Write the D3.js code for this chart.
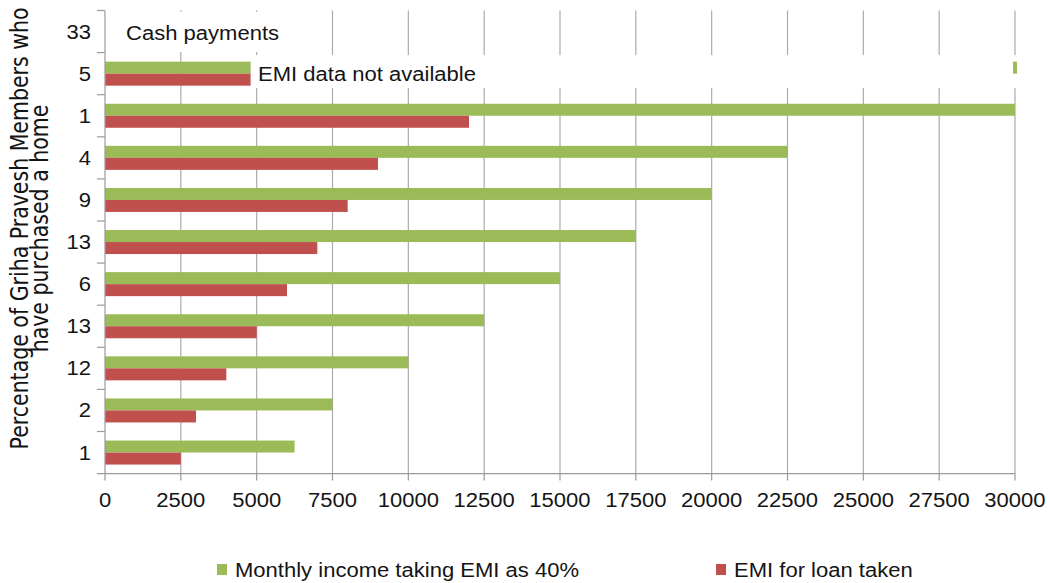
<!DOCTYPE html>
<html>
<head>
<meta charset="utf-8">
<script src="https://cdn.jsdelivr.net/npm/d3@7"></script>
<style>
  html, body { margin: 0; padding: 0; background: #fff; }
  svg { display: block; }
  text { fill: #141414; }
</style>
</head>
<body>
<svg id="chart" width="1048" height="583"></svg>
<script>
// Rows, top to bottom: share (%) of Griha Pravesh members who bought a home
const rowLabels = ["33", "5", "1", "4", "9", "13", "6", "13", "12", "2", "1"];
// Monthly income implied when EMI is 40% of income (null = no bar)
const incomeValues = [null, 4800, 30000, 22500, 20000, 17500, 15000, 12500, 10000, 7500, 6250];
// EMI for the loan taken
const emiValues = [null, 4800, 12000, 9000, 8000, 7000, 6000, 5000, 4000, 3000, 2500];
// Small income marker pinned at the right edge of the "EMI data not available" row
const incomeMarkerRows = [1];
const incomeMarkerValues = [30000];
const xTicks = [0, 2500, 5000, 7500, 10000, 12500, 15000, 17500, 20000, 22500, 25000, 27500, 30000];
const seriesNames = ["Monthly income taking EMI as 40%", "EMI for loan taken"];
const seriesColors = ["#9BBB59", "#C0504D"];
const rowNotes = [
  { row: 0, text: "Cash payments" },
  { row: 1, text: "EMI data not available" }
];
const axisTitle = ["Percentage of Griha Pravesh Members who", "have purchased a home"];

const svg = d3.select("#chart");
const FONT = "'Liberation Sans', Arial, sans-serif";
const FS = 19.5, SX = 1.13;   // label size and horizontal stretch

const plot = { left: 105, right: 1015, top: 10.5, bottom: 473.6 };

const x = d3.scaleLinear().domain([0, 30000]).range([plot.left, plot.right]);
const y = d3.scaleBand().domain(d3.range(rowLabels.length)).range([plot.top, plot.bottom]);
const sub = d3.scaleBand().domain([0, 1]).range([0, y.bandwidth()]).paddingOuter(0.754).paddingInner(0);

// stretched text helper
function label(g, px, py, str, anchor) {
  return g.append("text")
    .attr("transform", `translate(${px},${py}) scale(${SX},1)`)
    .attr("text-anchor", anchor || "start")
    .style("font-family", FONT)
    .style("font-size", FS + "px")
    .text(str);
}

// vertical gridlines
svg.append("g").selectAll("line")
  .data(xTicks.filter(d => d > 0))
  .join("line")
  .attr("x1", d => x(d)).attr("x2", d => x(d))
  .attr("y1", plot.top).attr("y2", plot.bottom)
  .attr("stroke", "#ababab").attr("stroke-width", 1.2);

// white boxes behind the row notes
svg.append("rect").attr("x", 113).attr("y", 12).attr("width", 180).attr("height", 40).attr("fill", "#fff");
svg.append("rect").attr("x", 254).attr("y", y(1) + 2.5).attr("width", 780).attr("height", 33).attr("fill", "#fff");

// bars
const rows = rowLabels.map((l, i) => ({ i, values: [incomeValues[i], emiValues[i]] }));
const rowG = svg.append("g").selectAll("g").data(rows).join("g")
  .attr("transform", d => `translate(0,${y(d.i)})`);
rowG.selectAll("rect")
  .data(d => d.values.map((v, k) => ({ v, k })).filter(e => e.v != null))
  .join("rect")
  .attr("x", x(0))
  .attr("y", e => sub(e.k))
  .attr("width", e => x(e.v) - x(0))
  .attr("height", sub.bandwidth())
  .attr("fill", e => seriesColors[e.k]);

// income marker at the right edge
svg.append("g").selectAll("rect")
  .data(incomeMarkerRows.map((r, j) => ({ r, v: incomeMarkerValues[j] })))
  .join("rect")
  .attr("x", d => x(d.v) - 2)
  .attr("y", d => y(d.r) + sub(0))
  .attr("width", 4)
  .attr("height", sub.bandwidth())
  .attr("fill", seriesColors[0]);

// axes lines
const axisColor = "#9a9a9a";
svg.append("line").attr("x1", plot.left).attr("x2", plot.left)
  .attr("y1", plot.top).attr("y2", plot.bottom).attr("stroke", axisColor).attr("stroke-width", 1.2);
svg.append("line").attr("x1", plot.left - 8).attr("x2", plot.right)
  .attr("y1", plot.bottom).attr("y2", plot.bottom).attr("stroke", axisColor).attr("stroke-width", 1.2);

// y ticks at row boundaries
svg.append("g").selectAll("line")
  .data(d3.range(rowLabels.length))
  .join("line")
  .attr("x1", plot.left - 8).attr("x2", plot.left)
  .attr("y1", d => y(d)).attr("y2", d => y(d))
  .attr("stroke", axisColor).attr("stroke-width", 1.2);

// x ticks
svg.append("g").selectAll("line")
  .data(xTicks)
  .join("line")
  .attr("x1", d => x(d)).attr("x2", d => x(d))
  .attr("y1", plot.bottom).attr("y2", plot.bottom + 7)
  .attr("stroke", axisColor).attr("stroke-width", 1.2);

// x tick labels
const xl = svg.append("g");
xTicks.forEach(t => label(xl, x(t), 507, String(t), "middle"));

// row labels
const yl = svg.append("g");
rowLabels.forEach((l, i) => label(yl, 91, y(i) + y.bandwidth() / 2 + 7, l, "end"));

// row notes
const notes = svg.append("g");
label(notes, 126, y(rowNotes[0].row) + y.bandwidth() / 2 + 8.5, rowNotes[0].text);
label(notes, 258, y(rowNotes[1].row) + y.bandwidth() / 2 + 7.5, rowNotes[1].text);

// axis title (two rotated lines, glyphs slightly stretched across the line)
const TITLE_STRETCH = 1.17;
const titleLines = svg.append("g").selectAll("text")
  .data(axisTitle)
  .join("text")
  .attr("transform", (d, i) => `translate(${[28, 48][i]},228.5) rotate(-90) scale(1,${TITLE_STRETCH})`)
  .attr("text-anchor", "middle")
  .style("font-family", "'DejaVu Sans', sans-serif")
  .style("font-size", "18px")
  .text(d => d);
const len = titleLines.nodes()[0].getComputedTextLength();
titleLines.style("font-size", (18 * 442 / len) + "px");

// legend
const legendX = [217, 716];
const lg = svg.append("g");
seriesNames.forEach((n, k) => {
  lg.append("rect").attr("x", legendX[k]).attr("y", 564).attr("width", 10).attr("height", 11)
    .attr("fill", seriesColors[k]);
  label(lg, legendX[k] + 18, 577, n);
});
</script>
</body>
</html>
